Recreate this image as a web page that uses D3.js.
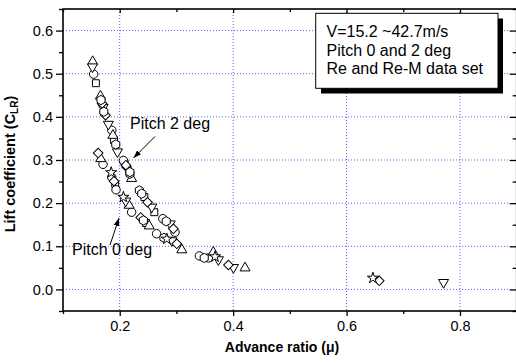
<!DOCTYPE html>
<html>
<head>
<meta charset="utf-8">
<script src="https://cdn.jsdelivr.net/npm/d3@7"></script>
<style>
  body { margin: 0; background: #fff; }
  text { font-family: "Liberation Sans", Arial, sans-serif; fill: #000; }
</style>
</head>
<body>
<div id="chart"></div>
<script>
// data, one array per marker type: [advance ratio, lift coefficient]
const squarePts = [[0.158, 0.478], [0.190, 0.346], [0.261, 0.179], [0.2435, 0.214], [0.192, 0.245], [0.2465, 0.154]];
const circlePts = [[0.154, 0.499], [0.186, 0.369], [0.2076, 0.296], [0.1706, 0.290], [0.186, 0.260], [0.1935, 0.231],
  [0.221, 0.179], [0.265, 0.129], [0.276, 0.164], [0.2976, 0.1326], [0.3405, 0.0777], [0.3565, 0.073], [0.2065, 0.299]];
const triUpPts = [[0.1523, 0.528], [0.166, 0.448], [0.188, 0.357], [0.221, 0.257], [0.2165, 0.195], [0.252, 0.147],
  [0.3095, 0.0916], [0.365, 0.086], [0.421, 0.0497], [0.1665, 0.303]];
const triDownPts = [[0.152, 0.516], [0.1706, 0.422], [0.180, 0.383], [0.196, 0.319], [0.2565, 0.191], [0.2106, 0.205],
  [0.292, 0.113], [0.374, 0.069], [0.4005, 0.051], [0.771, 0.0163], [0.289, 0.152]];
const diamondPts = [[0.169, 0.431], [0.175, 0.404], [0.212, 0.284], [0.162, 0.316], [0.249, 0.202], [0.2946, 0.1405],
  [0.237, 0.167], [0.3006, 0.1056], [0.3917, 0.0567], [0.6576, 0.020], [0.190, 0.251], [0.211, 0.288]];
const hexPts = [[0.167, 0.439], [0.172, 0.412], [0.193, 0.336], [0.2346, 0.2295], [0.218, 0.268], [0.2388, 0.222],
  [0.282, 0.158], [0.278, 0.1195], [0.349, 0.073], [0.2417, 0.160], [0.218, 0.272]];
const starPts = [[0.185, 0.271], [0.2065, 0.214], [0.283, 0.117], [0.6465, 0.0265], [0.368, 0.076]];

const xTicks = [0.2, 0.4, 0.6, 0.8];
const yTicks = [0.0, 0.1, 0.2, 0.3, 0.4, 0.5, 0.6];
const legendLines = ["V=15.2 ~42.7m/s", "Pitch 0 and 2 deg", "Re and Re-M data set"];

const width = 516, height = 364;
const margin = { left: 63, top: 9, right: 516.7, bottom: 311 };

const svg = d3.select("#chart").append("svg")
  .attr("width", width)
  .attr("height", height);

const x = d3.scaleLinear().domain([0.1, 0.9]).range([margin.left, margin.right]);
const y = d3.scaleLinear().domain([-0.05, 0.65]).range([margin.bottom, margin.top]);

// grid

const grid = svg.append("g")
  .attr("stroke", "#5a5aff")
  .attr("stroke-width", 1)
  .attr("stroke-dasharray", "1,2");

grid.selectAll("line.gx").data(xTicks).join("line")
  .attr("x1", d => x(d)).attr("x2", d => x(d))
  .attr("y1", margin.top).attr("y2", margin.bottom);

grid.selectAll("line.gy").data(yTicks).join("line")
  .attr("x1", margin.left).attr("x2", x(0.885))
  .attr("y1", d => y(d)).attr("y2", d => y(d));

// axes

const fmt = d3.format(".1f");
const xMinor = d3.range(0.1, 0.91, 0.1).filter(v => !xTicks.some(t => Math.abs(t - v) < 1e-6));
const yMinor = d3.range(-0.05, 0.66, 0.1);

svg.append("g").attr("transform", `translate(0,${margin.bottom})`)
  .call(d3.axisBottom(x).tickValues(xTicks).tickFormat(fmt).tickSize(5).tickPadding(5));
svg.append("g").attr("transform", `translate(0,${margin.bottom})`)
  .call(d3.axisBottom(x).tickValues(xMinor).tickFormat("").tickSize(3));

svg.append("g").attr("transform", `translate(${margin.left},0)`)
  .call(d3.axisLeft(y).tickValues(yTicks).tickFormat(fmt).tickSize(7).tickPadding(3));
svg.append("g").attr("transform", `translate(${margin.left},0)`)
  .call(d3.axisLeft(y).tickValues(yMinor).tickFormat("").tickSize(4));

svg.append("g").attr("transform", `translate(0,${margin.top})`)
  .call(d3.axisBottom(x).tickValues(xTicks).tickFormat("").tickSize(4));
svg.append("g").attr("transform", `translate(0,${margin.top})`)
  .call(d3.axisBottom(x).tickValues(xMinor).tickFormat("").tickSize(3));

svg.append("g").attr("transform", `translate(${margin.right},0)`)
  .call(d3.axisLeft(y).tickValues(yTicks).tickFormat("").tickSize(7));
svg.append("g").attr("transform", `translate(${margin.right},0)`)
  .call(d3.axisLeft(y).tickValues(yMinor).tickFormat("").tickSize(4));

svg.selectAll(".domain").attr("d", null);
svg.selectAll(".tick line").attr("stroke", "#000").attr("stroke-width", 1.3);
svg.selectAll(".tick text").attr("font-size", 14.5).attr("fill", "#111")
  .style("font-family", "'Liberation Sans', Arial, sans-serif");

// frame
svg.append("rect")
  .attr("x", margin.left).attr("y", margin.top)
  .attr("width", margin.right - margin.left).attr("height", margin.bottom - margin.top)
  .attr("fill", "none").attr("stroke", "#000").attr("stroke-width", 1.6);

// markers

const hexagon = {
  draw(ctx, size) {
    const r = Math.sqrt(size / 2.598);
    for (let i = 0; i < 6; i++) {
      const a = Math.PI / 6 + i * Math.PI / 3;
      if (i === 0) ctx.moveTo(r * Math.cos(a), r * Math.sin(a));
      else ctx.lineTo(r * Math.cos(a), r * Math.sin(a));
    }
    ctx.closePath();
  }
};

const series = [
  { pts: squarePts, type: d3.symbolSquare, size: 48, rot: 0 },
  { pts: circlePts, type: d3.symbolCircle, size: 56, rot: 0 },
  { pts: triUpPts, type: d3.symbolTriangle, size: 44, rot: 0 },
  { pts: triDownPts, type: d3.symbolTriangle, size: 44, rot: 180 },
  { pts: diamondPts, type: d3.symbolSquare, size: 46, rot: 45 },
  { pts: hexPts, type: hexagon, size: 56, rot: 0 },
  { pts: starPts, type: d3.symbolStar, size: 38, rot: 0 }
];

const marks = svg.append("g");
series.forEach(s => {
  marks.append("g").selectAll("path")
    .data(s.pts)
    .join("path")
    .attr("d", d3.symbol().type(s.type).size(s.size))
    .attr("transform", d => `translate(${x(d[0])},${y(d[1])}) rotate(${s.rot})`)
    .attr("fill", "#fff")
    .attr("stroke", "#000")
    .attr("stroke-width", 1);
});

// annotations

svg.append("defs").append("marker")
  .attr("id", "arrow")
  .attr("viewBox", "0 0 10 10")
  .attr("refX", 10).attr("refY", 5)
  .attr("markerWidth", 8).attr("markerHeight", 8)
  .attr("orient", "auto")
  .append("path").attr("d", "M0,1.5L10,5L0,8.5Z").attr("fill", "#000");

svg.append("line")
  .attr("x1", 155).attr("y1", 136.5).attr("x2", 133.5).attr("y2", 158)
  .attr("stroke", "#000").attr("stroke-width", 1).attr("marker-end", "url(#arrow)");
svg.append("text").attr("x", 130).attr("y", 129).attr("font-size", 16).text("Pitch 2 deg");

svg.append("line")
  .attr("x1", 110).attr("y1", 245).attr("x2", 119).attr("y2", 218)
  .attr("stroke", "#000").attr("stroke-width", 1).attr("marker-end", "url(#arrow)");
svg.append("text").attr("x", 72).attr("y", 255).attr("font-size", 16).text("Pitch 0 deg");

// legend box

svg.append("rect").attr("x", 321).attr("y", 18.5).attr("width", 182).attr("height", 75).attr("fill", "#000");
svg.append("rect").attr("x", 315.7).attr("y", 13.3).attr("width", 182.3).attr("height", 75)
  .attr("fill", "#fff").attr("stroke", "#000").attr("stroke-width", 1);

svg.append("g").selectAll("text")
  .data(legendLines)
  .join("text")
  .attr("x", 326.5)
  .attr("y", (d, i) => 37 + i * 18.5)
  .attr("font-size", 16)
  .text(d => d);

// axis titles

svg.append("text")
  .attr("x", 282).attr("y", 352)
  .attr("text-anchor", "middle")
  .attr("font-size", 14).attr("font-weight", "bold")
  .text("Advance ratio (\u03bc)");

const yt = svg.append("text")
  .attr("transform", "translate(15,164) rotate(-90)")
  .attr("text-anchor", "middle")
  .attr("font-size", 14.5).attr("font-weight", "bold");
yt.append("tspan").text("Lift coefficient (C");
yt.append("tspan").attr("font-size", 10).attr("dy", 3).text("LR");
yt.append("tspan").attr("dy", -3).text(")");
</script>
</body>
</html>
